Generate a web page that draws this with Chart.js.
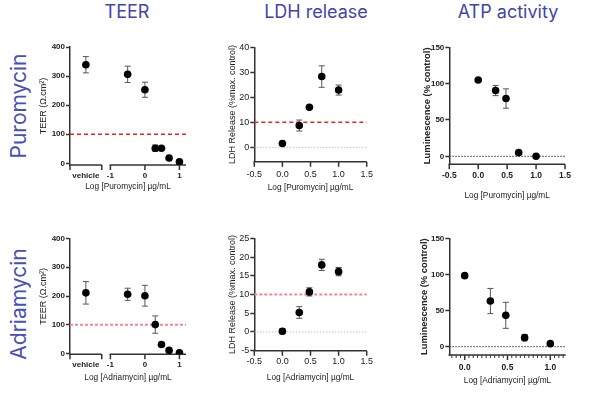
<!DOCTYPE html>
<html lang="en">
<head>
<meta charset="UTF-8">
<title>Puromycin / Adriamycin: TEER, LDH, ATP</title>
<script src="https://cdn.jsdelivr.net/npm/chart.js"></script>
<style>
  body { margin:0; width:594px; height:394px; position:relative; background:#fff; overflow:hidden; }
  .panel { position:absolute; }
  .head { position:absolute; top:1px; transform:translateX(-50%); font-family:Inter, sans-serif; font-size:18px; color:#3f45a9; white-space:nowrap; }
  .row { position:absolute; font-family:Inter, sans-serif; font-size:21px; color:#4a50b8; transform:translate(-50%,-50%) rotate(-90deg); white-space:nowrap; }
</style>
</head>
<body>

<div class="head" style="left:127px">TEER</div>
<div class="head" style="left:316px">LDH release</div>
<div class="head" style="left:508px">ATP activity</div>
<div class="row" style="left:18px; top:106px">Puromycin</div>
<div class="row" style="left:18px; top:304px">Adriamycin</div>

<script>
// ---- data ----
const VEHICLE = -1.71;                       // where "vehicle" sits on the broken TEER axis
const teerLog = [VEHICLE, -0.5, 0, 0.3, 0.48, 0.7, 1];
const doseLog = [0, 0.3, 0.48, 0.7, 1];

const teerPuro = [339, 306, 253, 52, 52, 18, 5];
const teerPuroErr = [28, 28, 26, 11, 0, 0, 0];
const ldhPuro = [1.5, 8.7, 16, 28.3, 22.9];
const ldhPuroErr = [0, 2.2, 0.5, 4.3, 2];
const atpPuro = [105, 90.5, 79.5, 5, 0];
const atpPuroErr = [0, 7, 13.3, 1.5, 0];

const teerAdria = [211, 206, 201, 101, 32, 11.6, 3.5];
const teerAdriaErr = [39, 21, 36, 30, 6, 3, 0];
const ldhAdria = [0.2, 5.2, 10.7, 17.9, 16.1];
const ldhAdriaErr = [0.7, 1.55, 1.1, 1.5, 1.1];
const atpAdria = [98.3, 63.2, 43.4, 12.5, 4.2];
const atpAdriaErr = [0, 17.4, 18, 4.4, 0];

const teerTicks = [0, 100, 200, 300, 400];
const ldhPuroTicks = [0, 10, 20, 30, 40];
const ldhAdriaTicks = [-5, 0, 5, 10, 15, 20, 25];
const atpTicks = [0, 50, 100, 150];
const teerXTicks = [VEHICLE, -1, 0, 1];
const teerXLabels = ['vehicle', '-1', '0', '1'];
const logXTicks = [-0.5, 0, 0.5, 1, 1.5];
const logXLabels = ['-0.5', '0.0', '0.5', '1.0', '1.5'];
const atpAdriaXTicks = [0, 0.5, 1];
const atpAdriaXLabels = ['0.0', '0.5', '1.0'];
const atpAdriaMinor = [-0.15,-0.1,-0.05,0.05,0.1,0.15,0.2,0.25,0.3,0.35,0.4,0.45,0.55,0.6,0.65,0.7,0.75,0.8,0.85,0.9,0.95,1.05,1.1,1.15];

const AXIS = '#333';
const FONT = '"Liberation Sans", Arial, sans-serif';

// draws reference lines, error bars and the (possibly broken) x axis
const decor = {
  id: 'decor',
  beforeDatasetsDraw(chart, args, opts) {
    const ctx = chart.ctx, a = chart.chartArea, x = chart.scales.x, y = chart.scales.y;
    ctx.save();
    (opts.refLines || []).forEach(r => {
      const py = y.getPixelForValue(r.y);
      ctx.strokeStyle = r.color; ctx.lineWidth = r.width; ctx.setLineDash(r.dash);
      ctx.beginPath(); ctx.moveTo(a.left, py); ctx.lineTo(a.right, py); ctx.stroke();
    });
    ctx.setLineDash([]);

    ctx.strokeStyle = '#555'; ctx.lineWidth = 1;
    chart.data.datasets[0].data.forEach((p, i) => {
      const e = opts.errors[i];
      if (!e) return;
      const px = x.getPixelForValue(p.x);
      const t = y.getPixelForValue(p.y + e), b = y.getPixelForValue(p.y - e);
      ctx.beginPath();
      ctx.moveTo(px, t); ctx.lineTo(px, b);
      ctx.moveTo(px - 3, t); ctx.lineTo(px + 3, t);
      ctx.moveTo(px - 3, b); ctx.lineTo(px + 3, b);
      ctx.stroke();
    });

    ctx.strokeStyle = AXIS; ctx.lineWidth = 1.5;
    const ay = a.bottom;
    opts.segments.forEach(s => {
      ctx.beginPath();
      ctx.moveTo(x.getPixelForValue(s[0]) - 0.75, ay);
      ctx.lineTo(x.getPixelForValue(s[1]), ay);
      ctx.stroke();
    });
    ctx.beginPath();
    (opts.major || []).forEach(v => { const px = x.getPixelForValue(v); ctx.moveTo(px, ay); ctx.lineTo(px, ay + 5); });
    ctx.stroke();
    ctx.lineWidth = 1;
    ctx.beginPath();
    (opts.minor || []).forEach(v => { const px = x.getPixelForValue(v); ctx.moveTo(px, ay); ctx.lineTo(px, ay + 3); });
    ctx.stroke();
    ctx.restore();
  }
};

function makePanel(p) {
  const div = document.createElement('div');
  div.className = 'panel';
  Object.assign(div.style, { left: p.box[0] + 'px', top: p.box[1] + 'px', width: p.box[2] + 'px', height: p.box[3] + 'px' });
  const cv = document.createElement('canvas');
  div.appendChild(cv);
  document.body.appendChild(div);

  const pad = {
    left: p.area[0] - p.box[0] - p.yW,
    top: p.area[2] - p.box[1],
    right: p.box[0] + p.box[2] - p.area[1],
    bottom: p.box[1] + p.box[3] - p.area[3] - p.xH
  };

  new Chart(cv, {
    type: 'scatter',
    data: {
      datasets: [{
        data: p.xs.map((v, i) => ({ x: v, y: p.ys[i] })),
        pointRadius: 3.8,
        pointBackgroundColor: '#000',
        pointBorderWidth: 0
      }]
    },
    options: {
      responsive: true,
      maintainAspectRatio: false,
      animation: false,
      layout: { padding: pad },
      plugins: {
        legend: { display: false },
        tooltip: { enabled: false },
        decor: { errors: p.errs, refLines: p.refLines, segments: p.segments, major: p.major, minor: p.minor }
      },
      scales: {
        x: {
          type: 'linear', min: p.xMin, max: p.xMax,
          afterBuildTicks: s => { s.ticks = p.xTicks.map(v => ({ value: v })); },
          afterFit: s => { s.height = p.xH; },
          grid: { display: false, drawTicks: false },
          border: { display: false },
          ticks: {
            padding: p.xPad, color: '#222', maxRotation: 0, autoSkip: false,
            font: { family: FONT, size: p.xTickSize, weight: p.xTickBold ? 'bold' : 'normal' },
            callback: (v, i) => p.xLabels[i]
          },
          title: { display: true, text: p.xTitle, color: '#222', padding: 0, font: { family: FONT, size: 8.3 } }
        },
        y: {
          min: p.yMin, max: p.yMax,
          afterBuildTicks: s => { s.ticks = p.yTicks.map(v => ({ value: v })); },
          afterFit: s => { s.width = p.yW; },
          grid: { drawOnChartArea: false, tickLength: 4, tickColor: AXIS, tickWidth: 1.5 },
          border: { display: true, color: AXIS, width: 1.5 },
          ticks: { padding: 1, color: '#222', font: { family: FONT, size: p.yTickSize, weight: p.yTickBold ? 'bold' : 'normal' } },
          title: { display: true, text: p.yTitle, color: '#222', padding: 0, font: { family: FONT, size: p.yTitleSize, weight: p.yTitleBold ? 'bold' : 'normal' } }
        }
      }
    },
    plugins: [decor]
  });
}

const redTop = { y: 100, color: '#e8251f', width: 1.5, dash: [4, 3] };
const redLow = { y: 100, color: '#f08a8a', width: 2, dash: [3, 2] };

// TEER, Puromycin
makePanel({
  box: [30, 30, 170, 170], area: [70, 186, 47, 165], yW: 32, xH: 27, xPad: 6,
  xs: teerLog, ys: teerPuro, errs: teerPuroErr,
  xMin: -2.17, xMax: 1.19, xTicks: teerXTicks, xLabels: teerXLabels,
  yMin: -5.85, yMax: 400, yTicks: teerTicks,
  segments: [[-2.17, -1.25], [-1, 1.19]], major: [-2.17, -1.25, -1, 0, 1],
  refLines: [redTop],
  xTickSize: 8, xTickBold: true, yTickSize: 8, yTickBold: true,
  xTitle: 'Log [Puromycin] µg/mL', yTitle: 'TEER (Ω.cm²)', yTitleSize: 9
});
// LDH, Puromycin
makePanel({
  box: [200, 30, 180, 170], area: [254.3, 366.7, 47.3, 161.7], yW: 27, xH: 31, xPad: 7,
  xs: doseLog, ys: ldhPuro, errs: ldhPuroErr,
  xMin: -0.5, xMax: 1.5, xTicks: logXTicks, xLabels: logXLabels,
  yMin: -5.76, yMax: 40, yTicks: ldhPuroTicks,
  segments: [[-0.5, 1.5]], major: logXTicks,
  refLines: [{ y: 10, color: '#e8251f', width: 1.5, dash: [4, 3] }, { y: 0, color: '#aaa', width: 1, dash: [1, 2] }],
  xTickSize: 9, yTickSize: 9,
  xTitle: 'Log [Puromycin] µg/mL', yTitle: 'LDH Release (%max. control)', yTitleSize: 9
});
// ATP, Puromycin
makePanel({
  box: [400, 30, 194, 175], area: [449.3, 565, 47.3, 164.3], yW: 28, xH: 36, xPad: 6,
  xs: doseLog, ys: atpPuro, errs: atpPuroErr,
  xMin: -0.5, xMax: 1.5, xTicks: logXTicks, xLabels: logXLabels,
  yMin: -11, yMax: 150, yTicks: atpTicks,
  segments: [[-0.5, 1.5]], major: logXTicks,
  refLines: [{ y: 0, color: '#333', width: 1, dash: [1.5, 1.5] }],
  xTickSize: 8.5, xTickBold: true, yTickSize: 8, yTickBold: true,
  xTitle: 'Log [Puromycin] µg/mL', yTitle: 'Luminescence (% control)', yTitleSize: 9.4, yTitleBold: true
});
// TEER, Adriamycin
makePanel({
  box: [30, 222, 170, 172], area: [70, 186, 238.3, 354.3], yW: 32, xH: 28, xPad: 5.5,
  xs: teerLog, ys: teerAdria, errs: teerAdriaErr,
  xMin: -2.17, xMax: 1.19, xTicks: teerXTicks, xLabels: teerXLabels,
  yMin: -2, yMax: 400, yTicks: teerTicks,
  segments: [[-2.17, -1.25], [-1, 1.19]], major: [-2.17, -1.25, -1, 0, 1],
  refLines: [redLow],
  xTickSize: 8, xTickBold: true, yTickSize: 8, yTickBold: true,
  xTitle: 'Log [Adriamycin] µg/mL', yTitle: 'TEER (Ω.cm²)', yTitleSize: 9
});
// LDH, Adriamycin
makePanel({
  box: [200, 222, 180, 172], area: [254.3, 366.7, 238.3, 350.7], yW: 27, xH: 31.5, xPad: 5.5,
  xs: doseLog, ys: ldhAdria, errs: ldhAdriaErr,
  xMin: -0.5, xMax: 1.5, xTicks: logXTicks, xLabels: logXLabels,
  yMin: -5, yMax: 25, yTicks: ldhAdriaTicks,
  segments: [[-0.5, 1.5]], major: logXTicks,
  refLines: [{ y: 10, color: '#f08a8a', width: 2, dash: [3, 2] }, { y: 0, color: '#aaa', width: 1, dash: [1, 2] }],
  xTickSize: 9, yTickSize: 9,
  xTitle: 'Log [Adriamycin] µg/mL', yTitle: 'LDH Release (%max. control)', yTitleSize: 9
});
// ATP, Adriamycin
makePanel({
  box: [400, 222, 194, 172], area: [449.3, 565.7, 238.3, 355], yW: 31, xH: 30.5, xPad: 8,
  xs: doseLog, ys: atpAdria, errs: atpAdriaErr,
  xMin: -0.18, xMax: 1.18, xTicks: atpAdriaXTicks, xLabels: atpAdriaXLabels,
  yMin: -11.5, yMax: 150, yTicks: atpTicks,
  segments: [[-0.18, 1.18]], major: atpAdriaXTicks, minor: atpAdriaMinor,
  refLines: [{ y: 0, color: '#333', width: 1, dash: [1.5, 1.5] }],
  xTickSize: 8.5, xTickBold: true, yTickSize: 8, yTickBold: true,
  xTitle: 'Log [Adriamycin] µg/mL', yTitle: 'Luminescence (% control)', yTitleSize: 9.4, yTitleBold: true
});
</script>
</body>
</html>
